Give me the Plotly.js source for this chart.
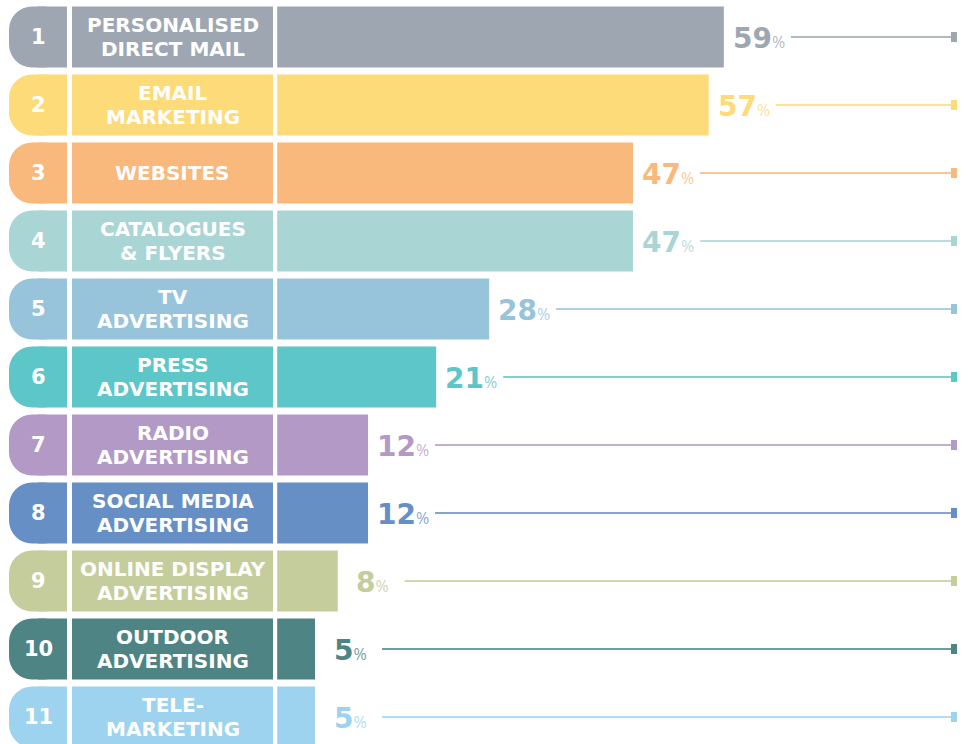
<!DOCTYPE html>
<html>
<head>
<meta charset="utf-8">
<script src="https://cdn.plot.ly/plotly-3.0.1.min.js"></script>
<style>
html,body{margin:0;padding:0;background:#fff;}
#chart{width:968px;height:744px;}
</style>
</head>
<body>
<div id="chart"></div>
<script>
// ---- data ----
const ranks = ['1','2','3','4','5','6','7','8','9','10','11'];
const categories = [
  'PERSONALISED<br>DIRECT MAIL',
  'EMAIL<br>MARKETING',
  'WEBSITES',
  'CATALOGUES<br>&amp; FLYERS',
  'TV<br>ADVERTISING',
  'PRESS<br>ADVERTISING',
  'RADIO<br>ADVERTISING',
  'SOCIAL MEDIA<br>ADVERTISING',
  'ONLINE DISPLAY<br>ADVERTISING',
  'OUTDOOR<br>ADVERTISING',
  'TELE-<br>MARKETING'
];
const values = [59, 57, 47, 47, 28, 21, 12, 12, 8, 5, 5];
const colors = ['#9ea7b1','#fddb78','#f9b87c','#aad5d5','#97c4da','#5dc6c8',
                '#b39ac6','#658fc5','#c4cd9b','#4f8484','#9dd3ee'];

// ---- layout helpers (pixel geometry of the page) ----
const W = 968, H = 744;
const ZERO_PX = 277.2, PX_PER = 7.57;
const px2v = p => (p - ZERO_PX) / PX_PER;
const BARW = 0.897;

const traces = [];
// rank boxes (rounded left ends)
traces.push({
  type:'bar', orientation:'h', y:ranks,
  base: ranks.map(() => px2v(67)),
  x: ranks.map(() => px2v(9) - px2v(67)),
  width: BARW,
  marker:{color:colors, cornerradius:'38%', line:{width:0}},
  hoverinfo:'skip', showlegend:false
});
// square right half of rank boxes
traces.push({
  type:'bar', orientation:'h', y:ranks,
  base: ranks.map(() => px2v(38)),
  x: ranks.map(() => px2v(67) - px2v(38)),
  width: BARW,
  marker:{color:colors, line:{width:0}},
  hoverinfo:'skip', showlegend:false
});
// label boxes
traces.push({
  type:'bar', orientation:'h', y:ranks,
  base: ranks.map(() => px2v(72)),
  x: ranks.map(() => px2v(273) - px2v(72)),
  width: BARW,
  marker:{color:colors, line:{width:0}},
  hoverinfo:'skip', showlegend:false
});
// value bars
traces.push({
  type:'bar', orientation:'h', y:ranks, x:values, base:0,
  width: BARW,
  marker:{color:colors, line:{width:0}},
  hoverinfo:'x', showlegend:false
});
// leader lines
ranks.forEach((r, i) => {
  traces.push({
    type:'scatter', mode:'lines', y:[r, r],
    x:[values[i] + 67/PX_PER, px2v(952)],
    line:{color:colors[i], width:2},
    opacity:0.8, hoverinfo:'skip', showlegend:false
  });
});
// end caps
traces.push({
  type:'bar', orientation:'h', y:ranks,
  base: ranks.map(() => px2v(951)),
  x: ranks.map(() => 6/PX_PER),
  width: 10/68,
  marker:{color:colors, line:{width:0}},
  hoverinfo:'skip', showlegend:false
});

const annotations = [];
ranks.forEach((r, i) => {
  annotations.push({
    xref:'paper', x:38/W, y:i, yref:'y', yshift:0,
    text:'<b>' + r + '</b>', showarrow:false, xanchor:'center', yanchor:'middle',
    font:{family:'DejaVu Sans', size:21, color:'#ffffff'}
  });
  const lines = categories[i].split('<br>');
  lines.forEach((t, k) => {
    const off = lines.length === 1 ? 0 : (k === 0 ? 12 : -12);
    annotations.push({
      xref:'paper', x:172.5/W, y:i, yref:'y', yshift:off,
      text:t, showarrow:false, xanchor:'center', yanchor:'middle',
      font:{family:'DejaVu Sans', size:20, weight:700, color:'#ffffff'}
    });
  });
  annotations.push({
    x:values[i], y:i, xshift:35, yshift:-1,
    text:'<b>' + values[i] + '</b><span style="font-family:Open Sans;font-size:16px;font-weight:400;fill-opacity:0.8">%</span>',
    showarrow:false, xanchor:'center', yanchor:'middle',
    font:{family:'DejaVu Sans', size:28, weight:700, color:colors[i]}
  });
});

const layout = {
  width:W, height:H,
  margin:{l:0, r:0, t:0, b:0},
  paper_bgcolor:'#ffffff', plot_bgcolor:'#ffffff',
  barmode:'overlay',
  xaxis:{range:[px2v(0), px2v(W)], visible:false, fixedrange:true},
  yaxis:{type:'category', categoryarray:ranks, range:[(H-37)/68, -37/68], visible:false, fixedrange:true},
  annotations:annotations,
  showlegend:false
};

Plotly.newPlot('chart', traces, layout, {displayModeBar:false, staticPlot:true});
</script>
</body>
</html>
